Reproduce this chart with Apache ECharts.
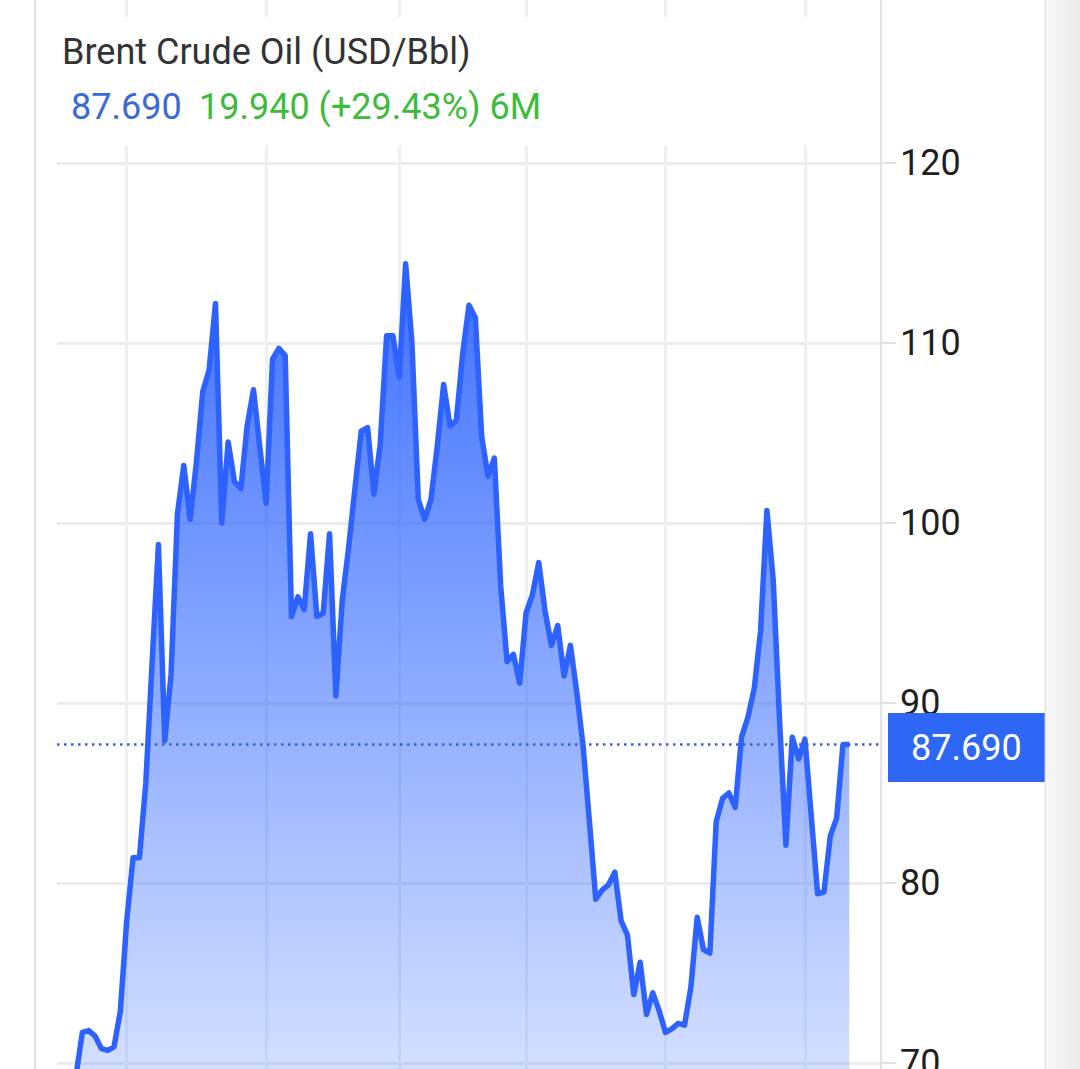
<!DOCTYPE html>
<html>
<head>
<meta charset="utf-8">
<script src="https://cdn.jsdelivr.net/npm/echarts@6/dist/echarts.min.js"></script>
<style>
html,body{margin:0;padding:0;width:1080px;height:1069px;overflow:hidden;background:#ffffff;}
#chart{position:absolute;left:0;top:-17px;width:1080px;height:1300px;}
</style>
</head>
<body>
<div id="chart"></div>
<script>
// ---- texts ----
const titleText = 'Brent Crude Oil (USD/Bbl)';
const lastText = '87.690';
const changeText = '19.940 (+29.43%) 6M';

// ---- y axis scale (tick labels 70 … 120 every 10) ----
const yMin = 60;
const yMax = 130;
const yStep = 10;

// ---- daily closes over the 6 months ----
const prices = [
  69.3, 71.7, 71.8, 71.5, 70.8, 70.7, 70.9, 72.9, 77.9, 81.4,
  81.4, 85.5, 92.2, 98.8, 87.9, 91.6, 100.5, 103.2, 100.2, 103.4,
  107.3, 108.5, 112.2, 100.0, 104.5, 102.3, 101.9, 105.4, 107.4, 104.2,
  101.1, 109.1, 109.7, 109.3, 94.8, 95.9, 95.2, 99.4, 94.8, 95.0,
  99.4, 90.4, 95.7, 98.6, 101.9, 105.1, 105.3, 101.6, 104.4, 110.4,
  110.4, 108.1, 114.4, 110.0, 101.3, 100.2, 101.3, 104.3, 107.7, 105.4,
  105.7, 109.4, 112.1, 111.4, 104.8, 102.6, 103.6, 96.5, 92.3, 92.7,
  91.1, 95.0, 96.0, 97.8, 95.1, 93.2, 94.3, 91.5, 93.2, 90.6,
  87.6, 83.4, 79.1, 79.6, 79.9, 80.6, 77.9, 77.1, 73.8, 75.6,
  72.7, 73.9, 72.9, 71.7, 71.9, 72.2, 72.1, 74.2, 78.1, 76.3,
  76.1, 83.4, 84.7, 85.0, 84.2, 88.1, 89.2, 90.8, 94.0, 100.7,
  96.8, 89.0, 82.1, 88.1, 86.9, 88.0, 83.7, 79.4, 79.5, 82.6,
  83.6, 87.69, 87.69
];
const lastValue = 87.69;

// first trading day of each month (index into prices)
const monthStarts = [8, 30, 51, 71, 93, 115];

// empty slots on both sides of the data
const padLeft = 3;
const padRight = 5;

// ---- build library inputs ----
const days = prices.map((_, i) => 'D' + (i + 1));
const cats = [].concat(Array(padLeft).fill(''), days, Array(padRight).fill(''));
const seriesData = [].concat(Array(padLeft).fill(null), prices, Array(padRight).fill(null));
const monthSet = new Set(monthStarts.map(i => i + padLeft));

const OFF = 17; // chart is shifted up by this many px

const chart = echarts.init(document.getElementById('chart'), null, { renderer: 'svg' });
const option = {
  animation: false,
  backgroundColor: '#ffffff',
  grid: { left: 57, right: 199, top: 0, bottom: 40 },
  xAxis: {
    type: 'category',
    data: cats,
    boundaryGap: false,
    axisLine: { show: false },
    axisTick: { show: false },
    axisLabel: { show: false },
    splitLine: {
      show: true,
      interval: (idx) => monthSet.has(idx),
      lineStyle: { color: '#edf1f6', width: 3 }
    }
  },
  yAxis: {
    type: 'value',
    position: 'right',
    min: yMin,
    max: yMax,
    interval: yStep,
    axisLine: { show: true, lineStyle: { color: '#e3e3e3', width: 2 } },
    axisTick: { show: true, length: 15, lineStyle: { color: '#e3e3e3', width: 2 } },
    axisLabel: {
      show: true, fontSize: 36, color: '#1f1f1f', margin: 19,
      fontFamily: 'Roboto', showMaxLabel: false, showMinLabel: false
    },
    splitLine: { show: true, lineStyle: { color: '#e8e9eb', width: 2.5 } }
  },
  series: [{
    type: 'line',
    data: seriesData,
    symbol: 'none',
    connectNulls: false,
    lineStyle: { color: '#2d62ff', width: 5.5, join: 'round' },
    itemStyle: { color: '#2d62ff' },
    areaStyle: {
      opacity: 1,
      color: new echarts.graphic.LinearGradient(0, 0, 0, 1, [
        { offset: 0, color: 'rgba(45,100,255,0.92)' },
        { offset: 1, color: 'rgba(45,100,255,0.05)' }
      ])
    },
    markLine: {
      silent: true,
      symbol: ['none', 'none'],
      data: [{ yAxis: lastValue }],
      lineStyle: { color: '#3366cc', width: 2.5, type: [2.5, 4.5] },
      label: {
        show: true,
        position: 'end',
        formatter: lastText,
        color: '#ffffff',
        fontSize: 36,
        fontFamily: 'Roboto',
        lineHeight: 36,
        backgroundColor: '#2e66f5',
        padding: [17, 23, 16, 23],
        distance: 7,
        offset: [0, 3]
      }
    }
  }],
  graphic: [
    { type: 'line', z: 5, shape: { x1: 35, y1: 0, x2: 35, y2: 1300 },
      style: { stroke: '#e5e5e5', lineWidth: 2.5 } },
    { type: 'line', z: 5, shape: { x1: 1045.5, y1: 0, x2: 1045.5, y2: 1300 },
      style: { stroke: '#e5e5e5', lineWidth: 2 } },
    { type: 'rect', z: 5, shape: { x: 1047, y: 0, width: 33, height: 1300 },
      style: { fill: new echarts.graphic.LinearGradient(0, 0, 1, 0, [
        { offset: 0, color: '#f7f7f7' }, { offset: 1, color: '#ececec' }]) } },
    { type: 'rect', z: 1, shape: { x: 40, y: 17 + OFF, width: 834, height: 128 },
      style: { fill: '#ffffff' } },
    { type: 'text', z: 6, x: 62, y: 52 + OFF,
      style: { text: titleText, fontSize: 36, fontFamily: 'Roboto', fill: '#333333', verticalAlign: 'middle' } },
    { type: 'text', z: 6, x: 71, y: 107 + OFF,
      style: { text: lastText, fontSize: 36, fontFamily: 'Roboto', fill: '#3a6ad8', verticalAlign: 'middle' } },
    { type: 'text', z: 6, x: 199, y: 107 + OFF,
      style: { text: changeText, fontSize: 36, fontFamily: 'Roboto', fill: '#3cbb3c', verticalAlign: 'middle' } }
  ]
};
chart.setOption(option);
</script>
</body>
</html>
